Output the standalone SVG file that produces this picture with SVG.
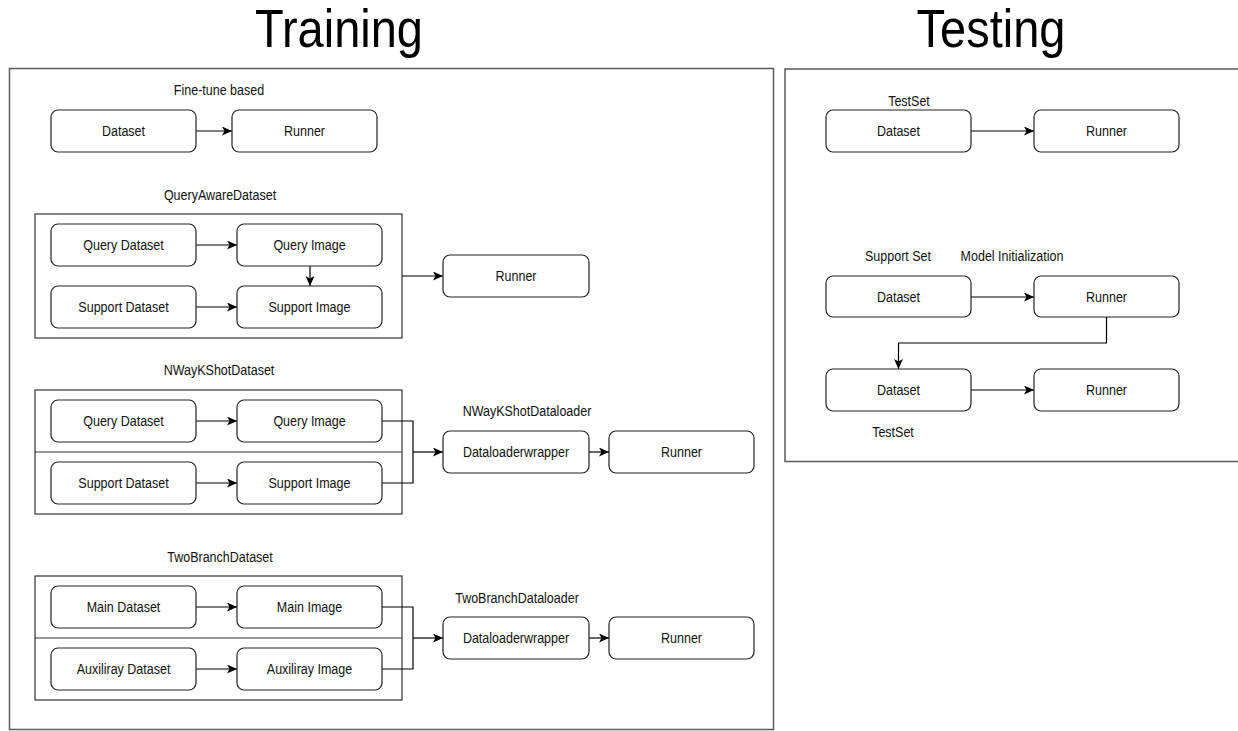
<svg xmlns="http://www.w3.org/2000/svg" width="1238" height="731" viewBox="0 0 1238 731">
<defs>
<marker id="arr" markerUnits="userSpaceOnUse" markerWidth="12" markerHeight="10" refX="10" refY="4.5" orient="auto">
<path d="M0,0 L10,4.5 L0,9 L2.5,4.5 z" fill="#000"/>
</marker>
<style>
.frame{fill:none;stroke:#5a5a5a;stroke-width:1.5}
.grp{fill:none;stroke:#333;stroke-width:1.2}
.node{fill:#fff;stroke:#222;stroke-width:1.2}
.t{font-family:"Liberation Sans",Arial,sans-serif;font-size:12.5px;fill:#111;text-anchor:middle}
.title{font-family:"Liberation Sans",Arial,sans-serif;font-size:47px;fill:#000;text-anchor:middle}
.c{fill:none;stroke:#000;stroke-width:1.2}
.ca{fill:none;stroke:#000;stroke-width:1.2;marker-end:url(#arr)}
</style>
</defs>
<rect width="1238" height="731" fill="#fff"/>

<text class="title" transform="translate(339,47) scale(1,1.15)">Training</text>
<text class="title" transform="translate(991,47) scale(1,1.15)">Testing</text>

<g id="frames">
<rect class="frame" x="9.5" y="68.5" width="764" height="661"/>
<path class="frame" d="M1240,69 H785 V461.5 H1240"/>
<rect class="grp" x="35" y="214" width="367" height="124"/>
<rect class="grp" x="35" y="390" width="367" height="124"/>
<line class="grp" x1="35" y1="452" x2="402" y2="452"/>
<rect class="grp" x="35" y="576" width="367" height="124"/>
<line class="grp" x1="35" y1="638" x2="402" y2="638"/>
</g>

<g id="labels">
<text class="t" transform="translate(219,95) scale(1,1.13)">Fine-tune based</text>
<text class="t" transform="translate(220,200) scale(1,1.13)">QueryAwareDataset</text>
<text class="t" transform="translate(219,375) scale(1,1.13)">NWayKShotDataset</text>
<text class="t" transform="translate(527,416) scale(1,1.13)">NWayKShotDataloader</text>
<text class="t" transform="translate(220,562) scale(1,1.13)">TwoBranchDataset</text>
<text class="t" transform="translate(517,603) scale(1,1.13)">TwoBranchDataloader</text>
<text class="t" transform="translate(909,106) scale(1,1.13)">TestSet</text>
<text class="t" transform="translate(898,261) scale(1,1.13)">Support Set</text>
<text class="t" transform="translate(1012,261) scale(1,1.13)">Model Initialization</text>
<text class="t" transform="translate(893,437) scale(1,1.13)">TestSet</text>
</g>

<g id="connectors">
<line class="ca" x1="196" y1="131" x2="232" y2="131"/>
<line class="ca" x1="196" y1="245" x2="237" y2="245"/>
<line class="ca" x1="310" y1="266" x2="310" y2="286"/>
<line class="ca" x1="196" y1="307" x2="237" y2="307"/>
<line class="ca" x1="402" y1="276" x2="443" y2="276"/>
<line class="ca" x1="196" y1="421" x2="237" y2="421"/>
<line class="ca" x1="196" y1="483" x2="237" y2="483"/>
<path class="c" d="M382,421 H413 V483 H382"/>
<line class="ca" x1="413" y1="452" x2="443" y2="452"/>
<line class="ca" x1="589" y1="452" x2="609" y2="452"/>
<line class="ca" x1="196" y1="607" x2="237" y2="607"/>
<line class="ca" x1="196" y1="669" x2="237" y2="669"/>
<path class="c" d="M382,607 H413 V669 H382"/>
<line class="ca" x1="413" y1="638" x2="443" y2="638"/>
<line class="ca" x1="589" y1="638" x2="609" y2="638"/>
<line class="ca" x1="971" y1="131" x2="1034" y2="131"/>
<line class="ca" x1="971" y1="297" x2="1034" y2="297"/>
<path class="ca" d="M1106.5,317 V343 H898.5 V369"/>
<line class="ca" x1="971" y1="390" x2="1034" y2="390"/>
</g>

<g id="n-ft-dataset"><rect class="node" x="51" y="110" width="145" height="42" rx="7"/><text class="t" transform="translate(123.5,136) scale(1,1.13)">Dataset</text></g>
<g id="n-ft-runner"><rect class="node" x="232" y="110" width="145" height="42" rx="7"/><text class="t" transform="translate(304.5,136) scale(1,1.13)">Runner</text></g>

<g id="n-qa-qd"><rect class="node" x="51" y="224" width="145" height="42" rx="7"/><text class="t" transform="translate(123.5,250) scale(1,1.13)">Query Dataset</text></g>
<g id="n-qa-qi"><rect class="node" x="237" y="224" width="145" height="42" rx="7"/><text class="t" transform="translate(309.5,250) scale(1,1.13)">Query Image</text></g>
<g id="n-qa-sd"><rect class="node" x="51" y="286" width="145" height="42" rx="7"/><text class="t" transform="translate(123.5,312) scale(1,1.13)">Support Dataset</text></g>
<g id="n-qa-si"><rect class="node" x="237" y="286" width="145" height="42" rx="7"/><text class="t" transform="translate(309.5,312) scale(1,1.13)">Support Image</text></g>
<g id="n-qa-runner"><rect class="node" x="443" y="255" width="146" height="42" rx="7"/><text class="t" transform="translate(516,281) scale(1,1.13)">Runner</text></g>

<g id="n-nw-qd"><rect class="node" x="51" y="400" width="145" height="42" rx="7"/><text class="t" transform="translate(123.5,426) scale(1,1.13)">Query Dataset</text></g>
<g id="n-nw-qi"><rect class="node" x="237" y="400" width="145" height="42" rx="7"/><text class="t" transform="translate(309.5,426) scale(1,1.13)">Query Image</text></g>
<g id="n-nw-sd"><rect class="node" x="51" y="462" width="145" height="42" rx="7"/><text class="t" transform="translate(123.5,488) scale(1,1.13)">Support Dataset</text></g>
<g id="n-nw-si"><rect class="node" x="237" y="462" width="145" height="42" rx="7"/><text class="t" transform="translate(309.5,488) scale(1,1.13)">Support Image</text></g>
<g id="n-nw-dlw"><rect class="node" x="443" y="431" width="146" height="42" rx="7"/><text class="t" transform="translate(516,457) scale(1,1.13)">Dataloaderwrapper</text></g>
<g id="n-nw-runner"><rect class="node" x="609" y="431" width="145" height="42" rx="7"/><text class="t" transform="translate(681.5,457) scale(1,1.13)">Runner</text></g>

<g id="n-tb-md"><rect class="node" x="51" y="586" width="145" height="42" rx="7"/><text class="t" transform="translate(123.5,612) scale(1,1.13)">Main Dataset</text></g>
<g id="n-tb-mi"><rect class="node" x="237" y="586" width="145" height="42" rx="7"/><text class="t" transform="translate(309.5,612) scale(1,1.13)">Main Image</text></g>
<g id="n-tb-ad"><rect class="node" x="51" y="648" width="145" height="42" rx="7"/><text class="t" transform="translate(123.5,674) scale(1,1.13)">Auxiliray Dataset</text></g>
<g id="n-tb-ai"><rect class="node" x="237" y="648" width="145" height="42" rx="7"/><text class="t" transform="translate(309.5,674) scale(1,1.13)">Auxiliray Image</text></g>
<g id="n-tb-dlw"><rect class="node" x="443" y="617" width="146" height="42" rx="7"/><text class="t" transform="translate(516,643) scale(1,1.13)">Dataloaderwrapper</text></g>
<g id="n-tb-runner"><rect class="node" x="609" y="617" width="145" height="42" rx="7"/><text class="t" transform="translate(681.5,643) scale(1,1.13)">Runner</text></g>

<g id="n-te-d1"><rect class="node" x="826" y="110" width="145" height="42" rx="7"/><text class="t" transform="translate(898.5,136) scale(1,1.13)">Dataset</text></g>
<g id="n-te-r1"><rect class="node" x="1034" y="110" width="145" height="42" rx="7"/><text class="t" transform="translate(1106.5,136) scale(1,1.13)">Runner</text></g>
<g id="n-te-d2"><rect class="node" x="826" y="276" width="145" height="41" rx="7"/><text class="t" transform="translate(898.5,302) scale(1,1.13)">Dataset</text></g>
<g id="n-te-r2"><rect class="node" x="1034" y="276" width="145" height="41" rx="7"/><text class="t" transform="translate(1106.5,302) scale(1,1.13)">Runner</text></g>
<g id="n-te-d3"><rect class="node" x="826" y="369" width="145" height="42" rx="7"/><text class="t" transform="translate(898.5,395) scale(1,1.13)">Dataset</text></g>
<g id="n-te-r3"><rect class="node" x="1034" y="369" width="145" height="42" rx="7"/><text class="t" transform="translate(1106.5,395) scale(1,1.13)">Runner</text></g>
</svg>
